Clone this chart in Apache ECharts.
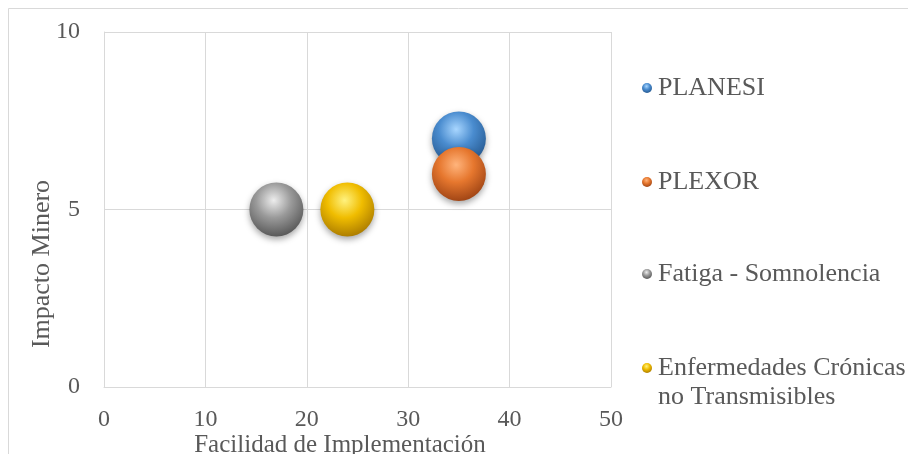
<!DOCTYPE html>
<html>
<head>
<meta charset="utf-8">
<script src="https://cdn.jsdelivr.net/npm/echarts@6/dist/echarts.min.js"></script>
<style>
  html, body { margin: 0; padding: 0; background: #fff; }
  #chart { width: 908px; height: 454px; }
</style>
</head>
<body>
<div id="chart"></div>
<script>
// Programs plotted by ease of implementation (x) against mining impact (y)
const seriesNames = ['PLANESI', 'PLEXOR', 'Fatiga - Somnolencia', 'Enfermedades Crónicas\nno Transmisibles'];
const facilidad = [35, 35, 17, 24];
const impacto = [7, 6, 5, 5];
const bubbleSize = [10, 10, 10, 10];
const xTicks = [0, 10, 20, 30, 40, 50];
const yTicks = [0, 5, 10];

// Sphere shading: highlight, base, rim
const palette = [
  ['#a8d6ff', '#4a8ccf', '#22548a'],
  ['#ffb47c', '#e6772e', '#983f12'],
  ['#ededed', '#9a9a9a', '#505050'],
  ['#fff27f', '#f0bd00', '#a47500']
];

const FONT = "'Liberation Serif', 'Times New Roman', serif";
const TEXT = '#595959';
const GRID = '#d9d9d9';

function sphere(c) {
  return {
    type: 'radial', x: 0.45, y: 0.33, r: 0.72,
    colorStops: [
      { offset: 0, color: c[0] },
      { offset: 0.45, color: c[1] },
      { offset: 1, color: c[2] }
    ]
  };
}

const maxSize = Math.max.apply(null, bubbleSize);
const series = seriesNames.map((name, i) => ({
  name: name,
  type: 'scatter',
  data: [[facilidad[i], impacto[i], bubbleSize[i]]],
  symbolSize: v => 54 * Math.sqrt(v[2] / maxSize),
  itemStyle: {
    color: sphere(palette[i]),
    opacity: 1,
    shadowColor: 'rgba(0,0,0,0.35)',
    shadowBlur: 6,
    shadowOffsetY: 3
  },
  z: 2 + i
}));

// One legend block per entry, stacked down the right side.
// A leading blank line keeps the icon level with the first line of a wrapped name.
const legendCenters = [88, 182, 274, 368];
const legendLine = 29;
const legends = seriesNames.map((name, i) => {
  const lines = name.split('\n').length;
  const shown = lines > 1 ? 2 * lines - 1 : 1;
  return {
    left: 642,
    top: legendCenters[i] - (legendLine * shown) / 2,
    padding: 0,
    icon: 'circle',
    itemWidth: 12,
    itemHeight: 10,
    selectedMode: false,
    data: [name],
    formatter: n => (lines > 1 ? '\n'.repeat(lines - 1) + n : n),
    textStyle: { fontFamily: FONT, fontSize: 26, color: TEXT, lineHeight: legendLine }
  };
});

const chart = echarts.init(document.getElementById('chart'), null, { renderer: 'canvas' });
chart.setOption({
  animation: false,
  backgroundColor: '#ffffff',
  graphic: [{
    type: 'rect',
    shape: { x: 8.5, y: 8.5, width: 920, height: 470 },
    style: { fill: 'none', stroke: GRID, lineWidth: 1 },
    silent: true
  }],
  grid: { left: 104, right: 297, top: 32, bottom: 67, outerBoundsMode: 'none', containLabel: false },
  legend: legends,
  xAxis: {
    type: 'value',
    min: xTicks[0], max: xTicks[xTicks.length - 1], interval: xTicks[1] - xTicks[0],
    name: 'Facilidad de Implementación',
    nameLocation: 'middle',
    nameGap: 44,
    nameMoveOverlap: false,
    nameTextStyle: { fontFamily: FONT, fontSize: 25, color: TEXT, lineHeight: 29, padding: [0, 35, 0, 0] },
    axisLine: { show: true, lineStyle: { color: GRID, width: 1 } },
    axisTick: { show: false },
    splitLine: { show: true, lineStyle: { color: GRID, width: 1 } },
    axisLabel: { fontFamily: FONT, fontSize: 24, color: TEXT, margin: 21 }
  },
  yAxis: {
    type: 'value',
    min: yTicks[0], max: yTicks[yTicks.length - 1], interval: yTicks[1] - yTicks[0],
    name: 'Impacto Minero',
    nameLocation: 'middle',
    nameGap: 47,
    nameMoveOverlap: false,
    nameTextStyle: { fontFamily: FONT, fontSize: 26, color: TEXT, lineHeight: 29, padding: [0, 109, 0, 0] },
    axisLine: { show: true, lineStyle: { color: GRID, width: 1 } },
    axisTick: { show: false },
    splitLine: { show: true, lineStyle: { color: GRID, width: 1 } },
    axisLabel: { fontFamily: FONT, fontSize: 24, color: TEXT, margin: 24 }
  },
  series: series
});
</script>
</body>
</html>
